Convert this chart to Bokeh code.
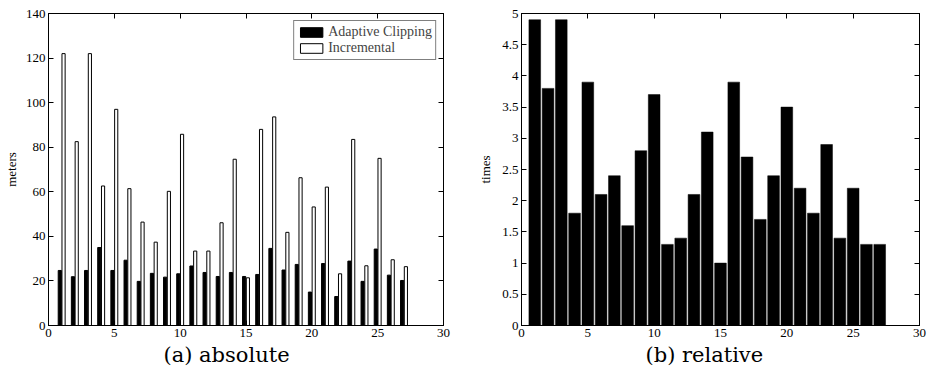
from bokeh.plotting import figure
from bokeh.models import Range1d, LinearAxis, FixedTicker, Title, Legend, LegendItem
from bokeh.layouts import row
from bokeh.embed import file_html
from bokeh.resources import INLINE

runs = list(range(1, 28))
adaptive = [24.7, 21.9, 24.7, 35.0, 24.7, 29.3, 19.8, 23.4, 21.7, 23.2, 26.7, 23.8, 22.0, 23.8,
            22.0, 22.9, 34.6, 24.9, 27.4, 15.0, 27.8, 13.0, 28.9, 19.8, 34.3, 22.6, 20.2]
incremental = [122.0, 82.5, 122.0, 62.6, 97.0, 61.4, 46.4, 37.4, 60.2, 85.8, 33.4, 33.4, 46.1, 74.6,
               21.4, 88.0, 93.6, 41.8, 66.3, 53.2, 62.1, 23.2, 83.5, 26.8, 75.0, 29.5, 26.4]
relative = [4.9, 3.8, 4.9, 1.8, 3.9, 2.1, 2.4, 1.6, 2.8, 3.7, 1.3, 1.4, 2.1, 3.1,
            1.0, 3.9, 2.7, 1.7, 2.4, 3.5, 2.2, 1.8, 2.9, 1.4, 2.2, 1.3, 1.3]

x_ticks = [0, 5, 10, 15, 20, 25, 30]
abs_y_ticks = [0, 20, 40, 60, 80, 100, 120, 140]
rel_y_ticks = [0, 0.5, 1, 1.5, 2, 2.5, 3, 3.5, 4, 4.5, 5]
rel_y_labels = ["0", "0.5", "1", "1.5", "2", "2.5", "3", "3.5", "4", "4.5", "5"]

series_names = ["Adaptive Clipping", "Incremental"]
captions = ["(a) absolute", "(b) relative"]
y_labels = ["meters", "times"]

SERIF = "Liberation Serif"
CAP_FONT = "DejaVu Serif"


def mirror_axis(ticks, standoff):
    return LinearAxis(ticker=FixedTicker(ticks=ticks), major_tick_in=5, major_tick_out=0,
                      major_label_overrides={t: "" for t in ticks},
                      major_label_text_font_size="1px", major_label_standoff=standoff,
                      minor_tick_line_color=None, axis_line_color="black",
                      major_tick_line_color="black")


def style_axes(p, yticks, ylabel, right_gap, label_standoff, ylab_overrides=None):
    p.xaxis.ticker = FixedTicker(ticks=x_ticks)
    p.yaxis.ticker = FixedTicker(ticks=yticks)
    if ylab_overrides:
        p.yaxis.major_label_overrides = ylab_overrides
    for ax in list(p.xaxis) + list(p.yaxis):
        ax.major_tick_in = 5
        ax.major_tick_out = 0
        ax.minor_tick_line_color = None
        ax.axis_line_color = "black"
        ax.major_tick_line_color = "black"
        ax.major_label_text_font = SERIF
        ax.major_label_text_font_size = "13px"
        ax.major_label_text_color = "black"
        ax.major_label_standoff = 3
    yax = p.left[0]
    yax.axis_label = ylabel
    yax.axis_label_text_font = SERIF
    yax.axis_label_text_font_size = "13px"
    yax.axis_label_text_font_style = "normal"
    yax.axis_label_text_color = "black"
    yax.axis_label_standoff = label_standoff
    p.add_layout(mirror_axis(x_ticks, 11), "above")
    p.add_layout(mirror_axis(yticks, right_gap), "right")
    p.xgrid.grid_line_color = None
    p.ygrid.grid_line_color = None
    p.outline_line_color = "black"


# ---- (a) absolute ----
p1 = figure(width=460, height=375, min_border_left=48, min_border_right=17,
            min_border_top=13, min_border_bottom=50, title=None,
            x_range=Range1d(0, 30), y_range=Range1d(0, 140),
            output_backend="svg", toolbar_location=None, tools="")
style_axes(p1, abs_y_ticks, y_labels[0], 16, 4)

off = 0.143
bw = 0.24
x_a = [r - off for r in runs]
x_i = [r + off for r in runs]
r_a = p1.vbar(x=x_a, top=adaptive, bottom=0, width=bw, fill_color="black", line_color="black", line_width=1)
r_i = p1.vbar(x=x_i, top=incremental, bottom=0, width=bw, fill_color="white", line_color="black", line_width=1)

legend = Legend(items=[LegendItem(label=series_names[0], renderers=[r_a]),
                       LegendItem(label=series_names[1], renderers=[r_i])],
                location="top_right", margin=7, padding=3, spacing=0,
                glyph_width=28, glyph_height=12, label_standoff=3,
                label_text_font=SERIF, label_text_font_size="14px",
                label_height=14,
                border_line_color="black", border_line_width=1,
                background_fill_color="white", background_fill_alpha=1)
p1.add_layout(legend)

t1 = Title(text=captions[0], align="left", offset=115, text_font=CAP_FONT,
           text_font_size="21px", text_font_style="normal", text_color="black", standoff=2)
p1.add_layout(t1, "below")

# ---- (b) relative ----
p2 = figure(width=467, height=375, min_border_left=61, min_border_right=8,
            min_border_top=13, min_border_bottom=50, title=None,
            x_range=Range1d(0, 30), y_range=Range1d(0, 5),
            output_backend="svg", toolbar_location=None, tools="")
style_axes(p2, rel_y_ticks, y_labels[1], 7, 6, dict(zip(rel_y_ticks, rel_y_labels)))

p2.vbar(x=runs, top=relative, bottom=0, width=0.88, fill_color="black", line_color="black", line_width=0.5)

t2 = Title(text=captions[1], align="left", offset=124, text_font=CAP_FONT,
           text_font_size="21px", text_font_style="normal", text_color="black", standoff=2)
p2.add_layout(t2, "below")

layout = row(p1, p2)
open("out.html", "w").write(file_html(layout, INLINE))
